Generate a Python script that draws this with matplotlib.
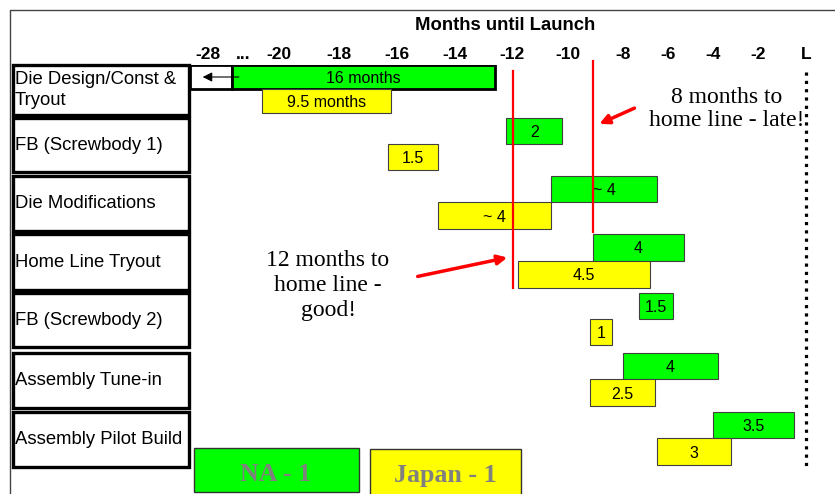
import numpy as np
import matplotlib
matplotlib.use('Agg')
import matplotlib.pyplot as plt
from matplotlib.patches import Rectangle

plt.rcParams['font.family'] = ['Liberation Sans', 'DejaVu Sans']

# Daten: Aufgaben und Zeitraeume (Monate bis Launch)
tasks = ['Die Design/Const &\nTryout', 'FB (Screwbody 1)', 'Die Modifications',
         'Home Line Tryout', 'FB (Screwbody 2)', 'Assembly Tune-in',
         'Assembly Pilot Build']

# NA (gruen)
na_start = [-25.3, -12.2, -10.6, -9.1, -7.3, -8.0, -4.0]
na_end = [-12.6, -10.2, -6.5, -5.3, -5.8, -3.8, -0.5]
na_labels = ['16 months', '2', '~ 4', '4', '1.5', '4', '3.5']

# Japan (gelb)
jp_start = [-21.9, -16.3, -14.6, -11.8, -9.2, -9.2, -6.5]
jp_end = [-16.2, -14.6, -10.6, -6.8, -8.4, -6.6, -3.2]
jp_labels = ['9.5 months', '1.5', '~ 4', '4.5', '1', '2.5', '3']

tick_months = [-28, -24, -20, -18, -16, -14, -12, -10, -8, -6, -4, -2, 0]
tick_labels = ['-28', '...', '-20', '-18', '-16', '-14', '-12', '-10',
               '-8', '-6', '-4', '-2', 'L']

# rote Markierungslinien
line_12 = -11.95
line_8 = -9.1

GREEN = '#00ff00'
YELLOW = '#ffff00'

# Layout (Pixel)
W, H = 835, 494
row_top = np.array([65, 118, 176, 234, 293, 353, 412])
row_h = np.array([50, 54, 55, 56, 54, 55, 55])

# stueckweise lineare Monatsachse (wie auf der Folie)
scale_m = [-30, -28, -20, -18, -16, -14, -12, -10, -8, -6, -4, -2, 0, 1.2]
scale_px = [190, 208, 279, 339, 397, 455, 512, 568, 623, 668, 713, 758, 806, 835]


def fwd(m):
    return np.interp(m, scale_m, scale_px)


def inv(p):
    return np.interp(p, scale_px, scale_m)


fig = plt.figure(figsize=(W / 100, H / 100), dpi=100)

# Hintergrund-Achse in Pixelkoordinaten
bg = fig.add_axes([0, 0, 1, 1])
bg.set_xlim(0, W)
bg.set_ylim(H, 0)
bg.axis('off')

# Rahmen
bg.plot([10, 10, W + 5], [H + 5, 10, 10], color='#444444', lw=1.0)

# Zeilenbeschriftungen in Kaesten
for i, t in enumerate(tasks):
    bg.add_patch(Rectangle((13, row_top[i]), 176, row_h[i], facecolor='white',
                           edgecolor='black', lw=2.4))
    bg.text(15, row_top[i] + row_h[i] / 2, t, fontsize=13.3, va='center',
            ha='left', linespacing=1.3)

bg.text(505, 25, 'Months until Launch', fontsize=13.3, fontweight='bold',
        ha='center', va='center')

# Legende
bg.add_patch(Rectangle((194, 448), 165, 44, facecolor=GREEN, edgecolor='#333333', lw=1))
bg.text(276, 472, 'NA - 1', family='Liberation Serif', fontweight='bold',
        fontsize=18.7, color='#808080', ha='center', va='center_baseline')
bg.add_patch(Rectangle((370, 449), 151, 46, facecolor=YELLOW, edgecolor='#333333', lw=1))
bg.text(445, 473, 'Japan - 1', family='Liberation Serif', fontweight='bold',
        fontsize=18.7, color='#808080', ha='center', va='center_baseline')

# Anmerkungen
bg.text(727, 109, '8 months to\nhome line - late!', family='Liberation Serif',
        fontsize=17, ha='center', va='center', linespacing=1.15)
bg.text(328, 285, '12 months to\nhome line -\ngood!', family='Liberation Serif',
        fontsize=17, ha='center', va='center', linespacing=1.25)

# Gantt-Achse
ax = fig.add_axes([190 / W, 0, 645 / W, (H - 65) / H])
ax.set_xscale('function', functions=(fwd, inv))
ax.set_xlim(-30, 1.2)
ax.set_ylim(H, 65)
ax.patch.set_alpha(0)
for s in ax.spines.values():
    s.set_visible(False)
ax.set_yticks([])
ax.set_xticks(tick_months, tick_labels, fontsize=12.5, fontweight='bold')
ax.tick_params(axis='x', top=True, labeltop=True, bottom=False,
               labelbottom=False, length=0, pad=2.5)

na_start = np.array(na_start)
na_end = np.array(na_end)
jp_start = np.array(jp_start)
jp_end = np.array(jp_end)

g_h = 0.48 * row_h
y_na = row_top + g_h / 2
y_jp = row_top + g_h + g_h / 2

# weisser Pfeil-Kasten vor dem 16-Monats-Balken
ax.barh(y_na[0], na_start[0] + 30, left=-30, height=g_h[0], color='white',
        edgecolor='black', lw=2)
ax.annotate('', xy=(-28.9, y_na[0]), xytext=(-24.2, y_na[0]),
            arrowprops=dict(arrowstyle='-|>', color='black', lw=0.8,
                            mutation_scale=14))

bars_na = ax.barh(y_na, na_end - na_start, left=na_start, height=g_h,
                  color=GREEN, edgecolor='#404040', lw=0.8)
bars_na[0].set_edgecolor('black')
bars_na[0].set_linewidth(2)
ax.barh(y_jp, jp_end - jp_start, left=jp_start, height=g_h,
        color=YELLOW, edgecolor='#404040', lw=0.8)

for i in range(len(tasks)):
    cx = inv((fwd(na_start[i]) + fwd(na_end[i])) / 2)
    ax.text(cx, y_na[i], na_labels[i], fontsize=11.5, ha='center',
            va='center_baseline')
    cx = inv((fwd(jp_start[i]) + fwd(jp_end[i])) / 2)
    ax.text(cx, y_jp[i], jp_labels[i], fontsize=11.5, ha='center',
            va='center_baseline')

# rote Linien und Pfeile
ax.plot([line_12, line_12], [71, 288], color='red', lw=1.6, clip_on=False)
ax.plot([line_8, line_8], [61, 232], color='red', lw=1.6, clip_on=False)
ax.annotate('', xy=(-8.95, 125), xytext=(-7.38, 107),
            arrowprops=dict(arrowstyle='-|>', color='red', lw=2.5,
                            mutation_scale=14))
ax.annotate('', xy=(-12.07, 257), xytext=(-15.38, 277),
            arrowprops=dict(arrowstyle='-|>', color='red', lw=2.5,
                            mutation_scale=14))

# Launch-Linie
ax.plot([0, 0], [72, 467], color='black', lw=2.3, ls=(0, (1, 1.6)),
        clip_on=False)

fig.savefig('out.png', dpi=100)
